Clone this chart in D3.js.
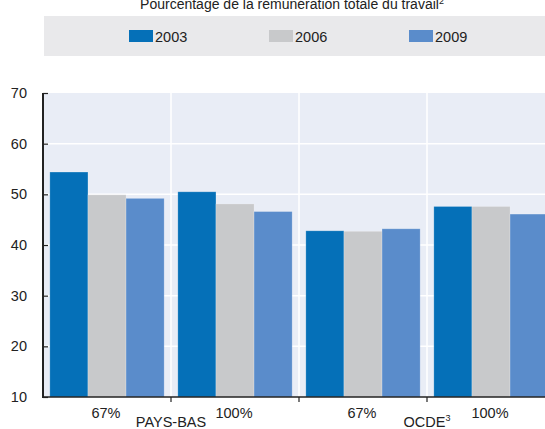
<!DOCTYPE html>
<html><head><meta charset="utf-8">
<script src="https://cdn.jsdelivr.net/npm/d3@7"></script>
<style>body{margin:0;background:#fff;}svg{display:block;font-family:"Liberation Sans",Arial,sans-serif;}</style>
</head><body>
<svg id="c" width="545" height="429"></svg>
<script>
const groups = ["PB67", "PB100", "OCDE67", "OCDE100"];
const groupLabels = ["67%", "100%", "67%", "100%"];
const countries = ["PAYS-BAS", "OCDE"];
const countrySup = ["", "3"];
const series = ["2003", "2006", "2009"];
const colors = ["#0570b8", "#c8c9cb", "#5a8ccb"];
const v2003 = [54.4, 50.5, 42.8, 47.6];
const v2006 = [49.9, 48.1, 42.7, 47.6];
const v2009 = [49.2, 46.6, 43.2, 46.1];
const yTicks = [10, 20, 30, 40, 50, 60, 70];
const title = "Pourcentage de la rémunération totale du travail";
const titleSup = "2";

const values = [v2003, v2006, v2009];
const svg = d3.select("#c");
const mLeft = 43, mTop = 93, mBottom = 397;

const x = d3.scaleBand().domain(groups).range([mLeft, mLeft + 4 * 128]).padding(0);
const xs = d3.scaleBand().domain(series).range([0, x.bandwidth()]).paddingInner(0).paddingOuter(0.18);
const y = d3.scaleLinear().domain([10, 70]).range([mBottom, mTop]);

// title (cropped at top, as in the reference)
const t = svg.append("text").attr("x", 292).attr("y", 9).attr("text-anchor", "middle")
  .attr("font-size", 14).attr("fill", "#222").text(title);
t.append("tspan").attr("font-size", 9).attr("dy", -5).text(titleSup);

// legend box
svg.append("rect").attr("x", 44).attr("y", 16).attr("width", 510).attr("height", 40).attr("fill", "#e9e9eb");
const legX = [129, 269, 409];
series.forEach((s, i) => {
  svg.append("rect").attr("x", legX[i]).attr("y", 30).attr("width", 24).attr("height", 12).attr("fill", colors[i]);
  svg.append("text").attr("x", legX[i] + 26).attr("y", 42).attr("font-size", 14.5).attr("fill", "#222").text(s);
});

// plot background
const pr = x.range()[1];
svg.append("rect").attr("x", mLeft).attr("y", mTop).attr("width", pr - mLeft).attr("height", mBottom - mTop).attr("fill", "#e9edf6");

// gridlines
svg.append("g").selectAll("line").data(yTicks.filter(d => d > 10 && d < 70)).join("line")
  .attr("x1", mLeft).attr("x2", pr).attr("y1", d => y(d)).attr("y2", d => y(d))
  .attr("stroke", "#fff").attr("stroke-width", 1.5);
svg.append("g").selectAll("line").data(groups.slice(1)).join("line")
  .attr("x1", d => x(d)).attr("x2", d => x(d)).attr("y1", mTop).attr("y2", mBottom)
  .attr("stroke", "#fff").attr("stroke-width", 1.5);

// bars
series.forEach((s, i) => {
  svg.append("g").selectAll("rect").data(groups).join("rect")
    .attr("x", d => x(d) + xs(s))
    .attr("y", (d, j) => y(values[i][j]))
    .attr("width", xs.bandwidth())
    .attr("height", (d, j) => mBottom - y(values[i][j]))
    .attr("fill", colors[i])
    .attr("stroke", "rgba(255,255,255,0.25)").attr("stroke-width", 0.8);
});

// y axis
const ya = svg.append("g").attr("transform", `translate(${mLeft},0)`)
  .call(d3.axisLeft(y).tickValues(yTicks).tickSize(-5).tickPadding(16).tickFormat(d3.format("d")));
ya.select(".domain").remove();
ya.selectAll(".tick line").attr("stroke", "#222").attr("stroke-width", 1.2);
ya.selectAll("text").attr("font-size", 14.5).attr("fill", "#222").attr("font-family", "Liberation Sans, Arial, sans-serif");
svg.append("line").attr("x1", mLeft).attr("x2", mLeft).attr("y1", mTop).attr("y2", mBottom + 1).attr("stroke", "#222").attr("stroke-width", 2);

// x axis
svg.append("line").attr("x1", mLeft).attr("x2", pr).attr("y1", mBottom).attr("y2", mBottom).attr("stroke", "#222").attr("stroke-width", 1.6);
svg.append("g").selectAll("line").data(groups.slice(1)).join("line")
  .attr("x1", d => x(d)).attr("x2", d => x(d)).attr("y1", mBottom).attr("y2", mBottom + 5)
  .attr("stroke", "#222").attr("stroke-width", 1.2);

// group labels
svg.append("g").selectAll("text").data(groups).join("text")
  .attr("x", d => x(d) + x.bandwidth() / 2 - 1).attr("y", 418)
  .attr("text-anchor", "middle").attr("font-size", 14.5).attr("fill", "#222")
  .text((d, i) => groupLabels[i]);

// country labels
countries.forEach((c, i) => {
  const cx = x(groups[i * 2 + 1]);
  const tt = svg.append("text").attr("x", cx).attr("y", 427).attr("text-anchor", "middle")
    .attr("font-size", 14.5).attr("fill", "#222").text(c);
  if (countrySup[i]) tt.append("tspan").attr("font-size", 9).attr("dy", -6).text(countrySup[i]);
});
</script>
</body></html>
